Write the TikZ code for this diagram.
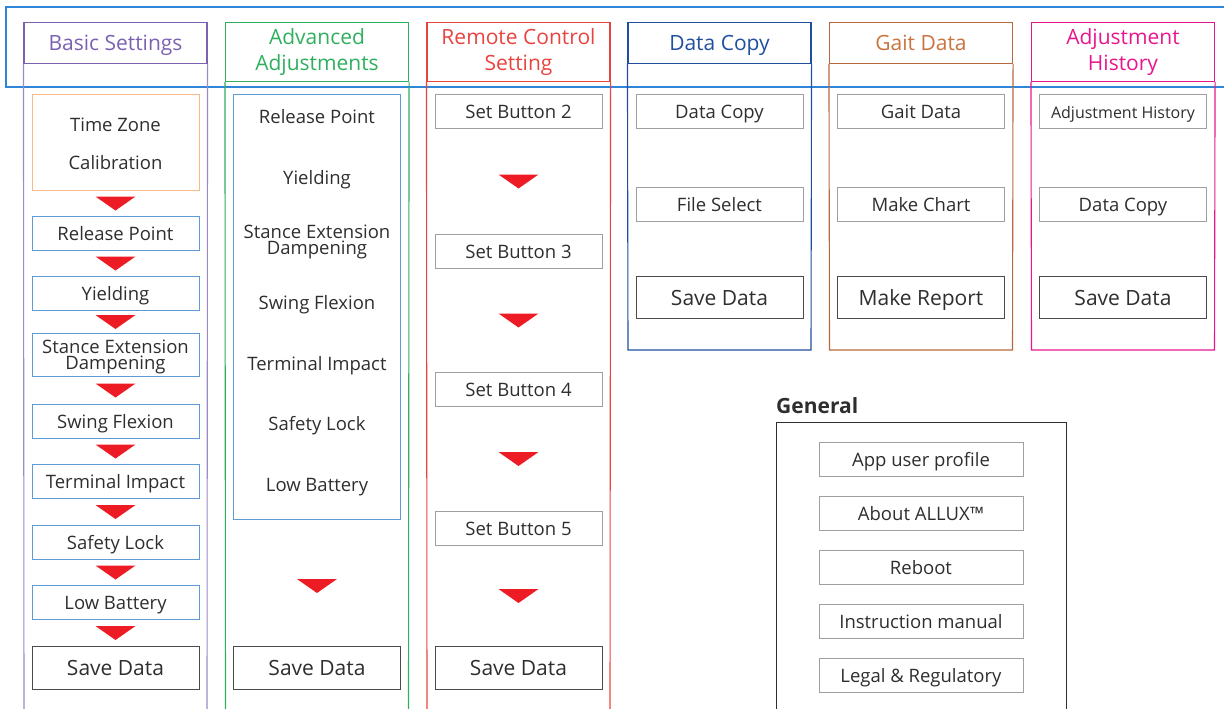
\documentclass[tikz,border=0pt]{standalone}
\usepackage{fontspec}
\setmainfont{Open Sans}
\usetikzlibrary{calc}
\definecolor{outerblue}{HTML}{2F86D8}
\definecolor{basicc}{HTML}{7A62B0}
\definecolor{basicl}{HTML}{9D8BC9}
\definecolor{advc}{HTML}{2EAF5E}
\definecolor{remotec}{HTML}{E8433F}
\definecolor{dcopyc}{HTML}{1F4F9E}
\definecolor{gaitc}{HTML}{B8683D}
\definecolor{gaitt}{HTML}{C9733E}
\definecolor{histc}{HTML}{E8168D}
\definecolor{tzorange}{HTML}{F8B98B}
\definecolor{listblue}{HTML}{5E9BD6}
\definecolor{boxgray}{HTML}{A0A0A0}
\definecolor{savegray}{HTML}{4A4A4A}
\definecolor{textgray}{HTML}{2E2E2E}
\definecolor{arrowred}{HTML}{ED1C24}
\tikzset{
  hd/.style={draw=#1, line width=1.1pt, minimum width=183pt, minimum height=41pt,
    anchor=north, inner sep=0pt, align=center, text height=17pt, text depth=2pt,
    font=\fontsize{21}{26}\selectfont},
  hdtwo/.style={hd=#1, minimum height=59pt, text height={}, text depth={}},
  item/.style={draw=#1, line width=1pt, minimum width=167pt, minimum height=34pt,
    inner sep=0pt, anchor=north, align=center, text=textgray,
    text height=15pt, text depth=2pt, font=\fontsize{18.5}{16}\selectfont},
  item/.default=boxgray,
  save/.style={item=savegray, minimum height=43pt, text height=17pt, text depth=2pt,
    font=\fontsize{21}{26}\selectfont},
  txt/.style={text=textgray, align=center, inner sep=0pt, text height=15pt, text depth=2pt,
    font=\fontsize{18.5}{16}\selectfont},
  txttwo/.style={txt, text height={}, text depth={}, font=\fontsize{18.5}{16.5}\selectfont},
  downtri/.pic={\fill[arrowred] (-20,-7) -- (20,-7) -- (0,7) -- cycle;}
}
\begin{document}
\begin{tikzpicture}[x=1pt,y=-1pt]
\useasboundingbox (0,0) rectangle (1224,709);
\clip (0,0) rectangle (1224,709);
\draw[outerblue, line width=1.1pt] (6,7) rectangle (1250,87);

% column headers
\node[hd=basicc, text=basicc] (basic) at (115.5,22) {Basic Settings};
\node[hdtwo=advc, text=advc] (adv) at (317,22) {Advanced\\Adjustments};
\node[hdtwo=remotec, text=remotec] (remote) at (518.5,22) {Remote Control\\Setting};
\node[hd=dcopyc, text=dcopyc] (dcopy) at (719.5,22) {Data Copy};
\node[hd=gaitc, text=gaitt] (gait) at (921,22) {Gait Data};
\node[hdtwo=histc, text=histc] (hist) at (1123,22) {Adjustment\\History};

% column sides
\draw[basicl, line width=1.1pt] (basic.south west) -- (24,712);
\draw[basicl, line width=1.1pt] (basic.south east) -- (207,712);
\draw[advc, line width=1.1pt] (adv.south west) -- (225.5,712);
\draw[advc, line width=1.1pt] (adv.south east) -- (408.5,712);
\draw[remotec, line width=1.1pt] (remote.south west) -- (427,712);
\draw[remotec, line width=1.1pt] (remote.south east) -- (610,712);
\draw[dcopyc, line width=1.1pt] (dcopy.south west) -- (628,350) -- (811,350) -- (dcopy.south east);
\draw[gaitc, line width=1.1pt] (gait.south west) -- (829.5,350) -- (1012.5,350) -- (gait.south east);
\draw[histc, line width=1.1pt] (hist.south west) -- (1031.5,350) -- (1214.5,350) -- (hist.south east);

% basic settings
\node[item=tzorange, minimum height=96pt] (tz) at (115.5,94) {};
\node[txttwo, font=\fontsize{18.5}{38}\selectfont] (tzt) at ($(tz.center)+(0,1)$) {Time Zone\\Calibration};
\node[item=listblue] (brp) at (115.5,216) {Release Point};
\node[item=listblue] (byl) at (115.5,276) {Yielding};
\node[item=listblue, minimum height=43pt] (bst) at (115.5,333) {};
\node[txttwo] (bstt) at ($(bst.center)+(0,2)$) {Stance Extension\\Dampening};
\node[item=listblue] (bsw) at (115.5,404) {Swing Flexion};
\node[item=listblue] (bti) at (115.5,464) {Terminal Impact};
\node[item=listblue] (bsl) at (115.5,525) {Safety Lock};
\node[item=listblue] (blb) at (115.5,585) {Low Battery};
\node[save] (bsave) at (115.5,646) {Save Data};
\foreach \a/\b in {tz/brp, brp/byl, byl/bst, bst/bsw, bsw/bti, bti/bsl, bsl/blb, blb/bsave}
  \pic at ($(\a.south)!0.5!(\b.north)$) {downtri};

% advanced adjustments
\node[item=listblue, minimum height=425pt] (alist) at (317,94) {};
\node[txt] (arp) at (317,117) {Release Point};
\node[txt] (ayl) at (317,178) {Yielding};
\node[txttwo] (ast) at (317,242) {Stance Extension\\Dampening};
\node[txt] (asw) at (317,303) {Swing Flexion};
\node[txt] (ati) at (317,364) {Terminal Impact};
\node[txt] (asl) at (317,424) {Safety Lock};
\node[txt] (alb) at (317,485) {Low Battery};
\node[save] (asave) at (317,646) {Save Data};
\pic at ($(alist.south)!0.5!(asave.north)+(0,3)$) {downtri};

% remote control setting
\node[item] (rb2) at (518.5,94) {Set Button 2};
\node[item] (rb3) at (518.5,234) {Set Button 3};
\node[item] (rb4) at (518.5,372) {Set Button 4};
\node[item] (rb5) at (518.5,511) {Set Button 5};
\node[save] (rsave) at (518.5,646) {Save Data};
\foreach \a/\b in {rb2/rb3, rb3/rb4, rb4/rb5, rb5/rsave}
  \pic at ($(\a.south)!0.5!(\b.north)$) {downtri};

% data copy, gait data, adjustment history
\node[item] (dc1) at (719.5,94) {Data Copy};
\node[item] (dc2) at (719.5,187) {File Select};
\node[save, minimum height=42pt] (dcsave) at (719.5,276) {Save Data};
\node[item] (gd1) at (921,94) {Gait Data};
\node[item] (gd2) at (921,187) {Make Chart};
\node[save, minimum height=42pt] (gdrep) at (921,276) {Make Report};
\node[item, font=\fontsize{16}{16}\selectfont] (ah1) at (1123,94) {Adjustment History};
\node[item] (ah2) at (1123,187) {Data Copy};
\node[save, minimum height=42pt] (ahsave) at (1123,276) {Save Data};

% general
\node[anchor=south west, inner sep=0pt, text=textgray, font=\fontsize{21}{24}\bfseries] (gen) at (776,414) {General};
\draw[textgray, line width=1pt] (776,712) -- (776,422) -- (1066,422) -- (1066,712);
\node[item, minimum width=204pt] (g1) at (921,442) {App user profile};
\node[item, minimum width=204pt] (g2) at (921,496) {About ALLUX™};
\node[item, minimum width=204pt] (g3) at (921,550) {Reboot};
\node[item, minimum width=204pt] (g4) at (921,604) {Instruction manual};
\node[item, minimum width=204pt] (g5) at (921,658) {Legal \& Regulatory};
\end{tikzpicture}
\end{document}
